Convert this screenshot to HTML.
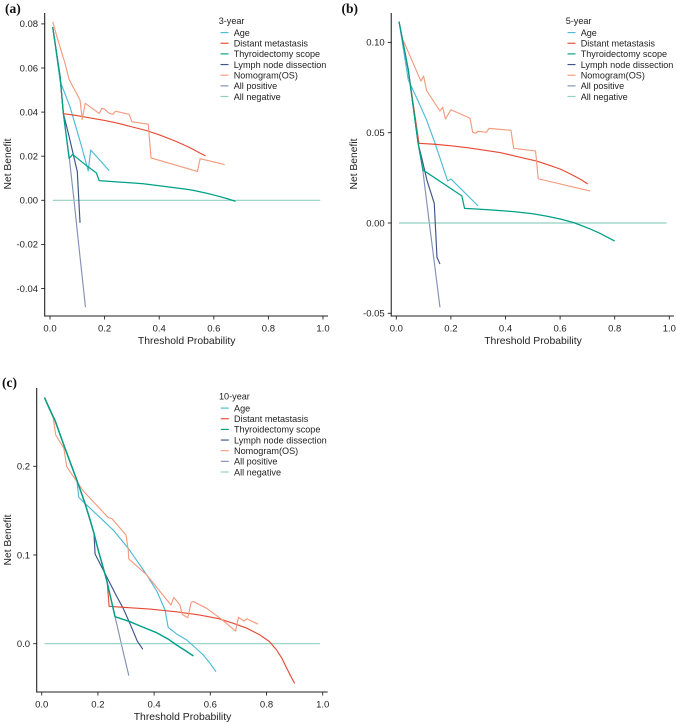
<!DOCTYPE html>
<html>
<head>
<meta charset="utf-8">
<style>
html,body{margin:0;padding:0;background:#fff;width:677px;height:724px;overflow:hidden}
svg{display:block}
text{font-family:"Liberation Sans",sans-serif;fill:#222}
.panel-tag{font-family:"Liberation Serif",serif;font-weight:bold;font-size:13.5px;fill:#111}
</style>
</head>
<body>
<svg id="fig" width="677" height="724" viewBox="0 0 677 724" xmlns="http://www.w3.org/2000/svg"></svg>
<script>
// ---- shared categories and tick labels ----
const legendLabels = ["Age","Distant metastasis","Thyroidectomy scope","Lymph node dissection","Nomogram(OS)","All positive","All negative"];
const xTicks = [0,0.2,0.4,0.6,0.8,1.0];
const aYTicks = [0.08,0.06,0.04,0.02,0,-0.02,-0.04];
const bYTicks = [0.10,0.05,0,-0.05];
const cYTicks = [0.2,0.1,0];

// ---- panel (a) 3-year ----
const aAgeX = [0.01,0.037,0.073,0.116,0.14,0.149,0.217];
const aAgeY = [0.0785,0.054,0.0425,0.0243,0.0133,0.0228,0.0134];
const aDistX = [0.01,0.037,0.049,0.1,0.15,0.2,0.25,0.3,0.354,0.4,0.464,0.51,0.57];
const aDistY = [0.0785,0.056,0.0393,0.0384,0.0373,0.0362,0.0349,0.0333,0.0316,0.0297,0.0266,0.024,0.0201];
const aThyX = [0.01,0.037,0.049,0.07,0.083,0.134,0.17,0.18,0.25,0.3,0.342,0.4,0.45,0.5,0.525,0.57,0.61,0.65,0.68];
const aThyY = [0.0785,0.056,0.0393,0.019,0.0208,0.0157,0.0124,0.0089,0.0083,0.0079,0.0075,0.0066,0.0058,0.005,0.0045,0.0033,0.0021,0.0007,-0.0005];
const aLymX = [0.01,0.037,0.049,0.067,0.1,0.11];
const aLymY = [0.0785,0.056,0.0393,0.0305,0.013,-0.0102];
const aNomX = [0.01,0.027,0.055,0.07,0.11,0.118,0.129,0.18,0.19,0.2,0.215,0.23,0.24,0.29,0.3,0.36,0.37,0.54,0.55,0.64];
const aNomY = [0.081,0.0735,0.0621,0.0548,0.0455,0.0367,0.044,0.0394,0.0417,0.0413,0.0396,0.039,0.0404,0.039,0.0356,0.0345,0.0192,0.0131,0.0189,0.0162];
const aPosX = [0.01,0.037,0.049,0.07,0.088,0.105,0.13];
const aPosY = [0.0785,0.056,0.0393,0.02,0,-0.02,-0.0485];
const aNegX = [0.01,0.99];
const aNegY = [0,0];

// ---- panel (b) 5-year ----
const bAgeX = [0.01,0.044,0.08,0.111,0.142,0.188,0.2,0.3];
const bAgeY = [0.1115,0.0792,0.0675,0.057,0.0441,0.0233,0.0244,0.0094];
const bDistX = [0.01,0.044,0.083,0.14,0.197,0.26,0.319,0.38,0.429,0.47,0.514,0.56,0.6,0.64,0.679,0.701];
const bDistY = [0.1115,0.0847,0.0441,0.0436,0.0428,0.0417,0.0404,0.039,0.0373,0.0358,0.0343,0.032,0.0299,0.027,0.0238,0.0216];
const bThyX = [0.01,0.044,0.08,0.098,0.24,0.25,0.3,0.35,0.43,0.5,0.55,0.6,0.65,0.673,0.71,0.746,0.8];
const bThyY = [0.1115,0.0847,0.0441,0.0293,0.015,0.0081,0.0077,0.0072,0.0063,0.0051,0.0038,0.0022,0.0002,-0.0011,-0.0033,-0.0057,-0.01];
const bLymX = [0.01,0.044,0.08,0.095,0.112,0.139,0.149,0.16];
const bLymY = [0.1115,0.0847,0.0441,0.0349,0.0238,0.0109,-0.019,-0.0227];
const bNomX = [0.026,0.043,0.09,0.1,0.111,0.16,0.17,0.18,0.2,0.27,0.28,0.29,0.3,0.33,0.34,0.42,0.43,0.51,0.52,0.71];
const bNomY = [0.1009,0.095,0.0786,0.0814,0.0733,0.062,0.0641,0.0576,0.0627,0.058,0.0502,0.0497,0.0508,0.0502,0.0524,0.0513,0.0413,0.0399,0.0245,0.0177];
const bPosX = [0.01,0.044,0.08,0.097,0.121,0.16];
const bPosY = [0.1115,0.0847,0.0441,0.0293,0,-0.0467];
const bNegX = [0.01,0.99];
const bNegY = [0,0];

// ---- panel (c) 10-year ----
const cAgeX = [0.01,0.047,0.083,0.125,0.132,0.148,0.2,0.255,0.308,0.34,0.374,0.41,0.439,0.45,0.48,0.516,0.545,0.575,0.6,0.62];
const cAgeY = [0.2774,0.252,0.2203,0.1845,0.165,0.16,0.1445,0.128,0.1075,0.093,0.0775,0.059,0.038,0.0185,0.011,0.0042,-0.004,-0.0127,-0.0225,-0.0315];
const cDistX = [0.01,0.047,0.083,0.125,0.154,0.186,0.201,0.233,0.24,0.3,0.385,0.48,0.563,0.63,0.682,0.73,0.777,0.81,0.836,0.855,0.872,0.887,0.9];
const cDistY = [0.2774,0.252,0.2203,0.1845,0.1583,0.1245,0.1056,0.07,0.0421,0.0408,0.0391,0.036,0.0323,0.0282,0.023,0.0175,0.0098,0.0025,-0.0071,-0.0165,-0.0277,-0.037,-0.0447];
const cThyX = [0.01,0.03,0.047,0.065,0.083,0.105,0.125,0.154,0.17,0.186,0.201,0.215,0.231,0.245,0.261,0.314,0.36,0.409,0.45,0.48,0.51,0.54];
const cThyY = [0.2774,0.263,0.252,0.236,0.2203,0.2015,0.1845,0.1583,0.142,0.1245,0.1056,0.09,0.0718,0.0525,0.0305,0.0248,0.0187,0.0124,0.0052,-0.0015,-0.0075,-0.0139];
const cLymX = [0.01,0.047,0.083,0.125,0.154,0.186,0.19,0.243,0.265,0.29,0.315,0.34,0.36];
const cLymY = [0.2774,0.252,0.2203,0.1845,0.1583,0.1245,0.1011,0.0681,0.0545,0.0399,0.022,0.003,-0.0063];
const cNomX = [0.01,0.041,0.05,0.079,0.089,0.148,0.237,0.25,0.3,0.308,0.31,0.374,0.46,0.47,0.492,0.5,0.52,0.532,0.54,0.587,0.64,0.69,0.7,0.72,0.73,0.77];
const cNomY = [0.2774,0.2548,0.2353,0.2203,0.1996,0.1722,0.1421,0.141,0.1225,0.1056,0.0955,0.0775,0.0436,0.0523,0.0436,0.033,0.0293,0.0466,0.0475,0.0399,0.0275,0.0143,0.0297,0.0256,0.028,0.0219];
const cPosX = [0.01,0.03,0.047,0.065,0.083,0.105,0.125,0.154,0.17,0.186,0.201,0.215,0.231,0.245,0.261,0.285,0.31];
const cPosY = [0.2774,0.263,0.252,0.236,0.2203,0.2015,0.1845,0.1583,0.142,0.1245,0.1056,0.09,0.0718,0.0525,0.0305,-0.0025,-0.036];
const cNegX = [0.01,0.99];
const cNegY = [0,0];

// ---- styling ----
const NS = "http://www.w3.org/2000/svg";
const colors = {age:"#4DBBD5",dist:"#E64B35",thy:"#00A087",lym:"#3C5488",nom:"#F39B7F",pos:"#8491B4",neg:"#91D1C2"};
const legendColors = [colors.age,colors.dist,colors.thy,colors.lym,colors.nom,colors.pos,colors.neg];
const svg = document.getElementById("fig");

function el(parent,tag,attrs){
  const e = document.createElementNS(NS,tag);
  for (const k in attrs) e.setAttribute(k,attrs[k]);
  parent.appendChild(e);
  return e;
}
function kebab(s){ return s.toLowerCase().replace(/[^a-z0-9]+/g,"-").replace(/-$/,""); }

function drawPanel(p){
  // axis functions
  const sx = v => p.x0 + p.xUnit*v;
  const sy = v => p.y0 - p.yUnit*v;

  const g = el(svg,"g",{});
  
  

  const tag = el(g,"text",{x:p.tagX,y:p.tagY,"class":"panel-tag"});
  tag.textContent = "("+p.id+")";
  
  

  // series
  p.series.forEach(s => {
    const pts = s.xs.map((x,i)=>sx(x).toFixed(2)+","+sy(s.ys[i]).toFixed(2)).join(" ");
    const line = el(g,"polyline",{points:pts,fill:"none",stroke:s.color,"stroke-width":s.w||1.15,"stroke-linejoin":"round"});
    
    
  });

  // axes
  const yAxis = el(g,"line",{x1:p.axisX,x2:p.axisX,y1:p.top,y2:p.bottom+0.6,stroke:p.yAxisColor,"stroke-width":p.yAxisW});
  
  
  const xAxis = el(g,"line",{x1:p.axisX,x2:p.right,y1:p.bottom,y2:p.bottom,stroke:"#222","stroke-width":1.1});
  
  

  xTicks.forEach(t => {
    const mark = el(g,"line",{x1:sx(t),x2:sx(t),y1:p.bottom,y2:p.bottom+3.5,stroke:"#222","stroke-width":0.9});
    
    
    const lab = el(g,"text",{x:sx(t),y:p.bottom+15.5,"text-anchor":"middle","font-size":9.5});
    lab.textContent = t.toFixed(1);
    
    
  });
  p.yTicks.forEach(t => {
    const mark = el(g,"line",{x1:p.axisX-3.5,x2:p.axisX,y1:sy(t),y2:sy(t),stroke:"#222","stroke-width":0.9});
    
    
    const lab = el(g,"text",{x:p.axisX-6.6,y:sy(t)+3.3,"text-anchor":"end","font-size":9.5});
    lab.textContent = t.toFixed(p.yDigits);
    
    
  });

  const xt = el(g,"text",{x:p.xTitleX,y:p.bottom+28,"text-anchor":"middle","font-size":10.4});
  xt.textContent = "Threshold Probability";
  
  
  const yt = el(g,"text",{transform:"translate("+p.yTitleX+","+p.yTitleY+") rotate(-90)","text-anchor":"middle","font-size":10.3});
  yt.textContent = "Net Benefit";
  
  

  // legend
  const lg = el(g,"g",{});
  
  
  const title = el(lg,"text",{x:p.legX,y:p.legY,"font-size":9.1});
  title.textContent = p.legendTitle;
  
  
  legendLabels.forEach((name,i) => {
    const cy = p.legY + 8.6 + i*10.65;
    const key = el(lg,"line",{x1:p.legX+1.8,x2:p.legX+9.8,y1:cy,y2:cy,stroke:legendColors[i],"stroke-width":1.15});
    
    
    const lab = el(lg,"text",{x:p.legX+15,y:cy+3.3,"font-size":9.1});
    lab.textContent = name;
    
    
  });
}

function seriesOf(age,ageY,dist,distY,thy,thyY,lym,lymY,nom,nomY,pos,posY,neg,negY,thyW){
  return [
    {name:"All positive",xs:pos,ys:posY,color:colors.pos},
    {name:"All negative",xs:neg,ys:negY,color:colors.neg},
    {name:"Lymph node dissection",xs:lym,ys:lymY,color:colors.lym},
    {name:"Age",xs:age,ys:ageY,color:colors.age},
    {name:"Distant metastasis",xs:dist,ys:distY,color:colors.dist},
    {name:"Nomogram(OS)",xs:nom,ys:nomY,color:colors.nom},
    {name:"Thyroidectomy scope",xs:thy,ys:thyY,color:colors.thy,w:thyW}
  ];
}

drawPanel({id:"a",legendTitle:"3-year",tagX:5,tagY:13,x0:50,xUnit:273,y0:200.3,yUnit:2205,axisX:44.7,top:13,bottom:316,right:328,
  yAxisColor:"#222",yAxisW:1.1,yTicks:aYTicks,yDigits:2,xTitleX:186.7,yTitleX:11,yTitleY:164,legX:218.7,legY:24,
  series:seriesOf(aAgeX,aAgeY,aDistX,aDistY,aThyX,aThyY,aLymX,aLymY,aNomX,aNomY,aPosX,aPosY,aNegX,aNegY,1.25)});
drawPanel({id:"b",legendTitle:"5-year",tagX:341.5,tagY:13,x0:396.3,xUnit:273,y0:223,yUnit:1806,axisX:391.3,top:13,bottom:316,right:674,
  yAxisColor:"#555",yAxisW:1.4,yTicks:bYTicks,yDigits:2,xTitleX:533,yTitleX:357,yTitleY:164,legX:565.7,legY:24,
  series:seriesOf(bAgeX,bAgeY,bDistX,bDistY,bThyX,bThyY,bLymX,bLymY,bNomX,bNomY,bPosX,bPosY,bNegX,bNegY,1.25)});
drawPanel({id:"c",legendTitle:"10-year",tagX:2,tagY:387,x0:41.7,xUnit:281,y0:643.7,yUnit:887,axisX:36.7,top:388,bottom:692,right:327.7,
  yAxisColor:"#222",yAxisW:1.1,yTicks:cYTicks,yDigits:1,xTitleX:182.5,yTitleX:11,yTitleY:540,legX:219,legY:399.5,
  series:seriesOf(cAgeX,cAgeY,cDistX,cDistY,cThyX,cThyY,cLymX,cLymY,cNomX,cNomY,cPosX,cPosY,cNegX,cNegY,1.45)});
</script>
</body>
</html>
